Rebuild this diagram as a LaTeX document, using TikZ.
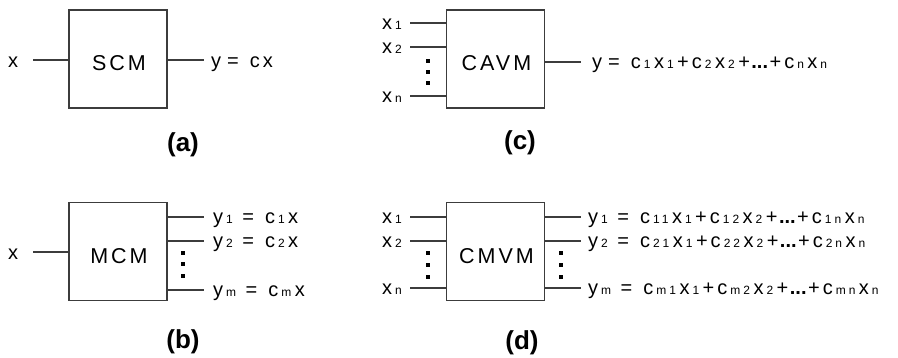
\documentclass[tikz,border=0pt]{standalone}
\usepackage{fontspec}
\setmainfont{Liberation Sans}
\newfontfamily\eqf[LetterSpace=15]{Liberation Sans}
\newfontfamily\subf[LetterSpace=25]{Liberation Sans}
\newfontfamily\plf{Liberation Sans}
\newfontfamily\bxf[LetterSpace=14]{Liberation Sans}
\newcommand\sbs[1]{\kern3pt{\subf\fontsize{12}{12}\selectfont #1}\kern3.5pt}
\newcommand\eqs{\kern6pt=\kern11pt}
\newcommand\dts{\kern1.5pt{\plf\bfseries ...}\kern1.5pt}
\definecolor{lc}{RGB}{60,60,60}
\tikzset{
  wire/.style={draw=lc, line width=1.1pt},
  blk/.style={draw=lc, line width=1.1pt, minimum width=98pt, minimum height=98pt, inner sep=0pt},
  blklbl/.style={anchor=base, inner sep=0pt, font=\bxf\fontsize{21.5}{21.5}\selectfont},
  eq/.style={anchor=base west, inner sep=0pt, font=\eqf\fontsize{20}{20}\selectfont},
  capt/.style={inner sep=0pt, font=\bfseries\fontsize{26}{26}\selectfont},
  vdot/.style={fill=black, minimum size=4.5pt, inner sep=0pt}
}
\begin{document}
\begin{tikzpicture}[x=1pt,y=-1pt]
\useasboundingbox (0,0) rectangle (898,357);
% (a)
\node[blk] (scm) at (118,59) {};
\node[blklbl] (scmt) at (119,70) {SCM};
\node[eq] (ax) at (8,67) {x};
\coordinate (ain) at (33,60);
\draw[wire] (ain) -- (ain -| scm.west);
\coordinate (aout) at (204,60);
\draw[wire] (aout -| scm.east) -- (aout);
\node[eq] (ay) at (211,67) {y\eqs cx};
\node[capt] (capa) at (183,145) {(a)};
% (b)
\node[blk] (mcm) at (118,251.5) {};
\node[blklbl] (mcmt) at (119,263) {MCM};
\node[eq] (bx) at (8,259) {x};
\coordinate (bin) at (33,252);
\draw[wire] (bin) -- (bin -| mcm.west);
\coordinate (bo1) at (204,217);
\coordinate (bo2) at (204,241);
\coordinate (bo3) at (204,290);
\draw[wire] (bo1 -| mcm.east) -- (bo1);
\draw[wire] (bo2 -| mcm.east) -- (bo2);
\draw[wire] (bo3 -| mcm.east) -- (bo3);
\node[eq] (by1) at (213,223) {y\sbs{1}\eqs c\sbs{1}x};
\node[eq] (by2) at (213,247) {y\sbs{2}\eqs c\sbs{2}x};
\node[eq] (by3) at (213,296) {y\sbs{m}\eqs c\sbs{m}x};
\node[vdot] (bd1) at (183,253) {};
\node[vdot] (bd2) at (183,264) {};
\node[vdot] (bd3) at (183,276) {};
\node[capt] (capb) at (183,342) {(b)};
% (c)
\node[blk] (cavm) at (495.5,59) {};
\node[blklbl] (cavmt) at (496.5,70) {CAVM};
\coordinate (ci1) at (410,23);
\coordinate (ci2) at (410,47);
\coordinate (ci3) at (410,96);
\draw[wire] (ci1) -- (ci1 -| cavm.west);
\draw[wire] (ci2) -- (ci2 -| cavm.west);
\draw[wire] (ci3) -- (ci3 -| cavm.west);
\node[eq] (cx1) at (382,29) {x\sbs{1}};
\node[eq] (cx2) at (382,53) {x\sbs{2}};
\node[eq] (cx3) at (382,102) {x\sbs{n}};
\node[vdot] (cd1) at (428,61) {};
\node[vdot] (cd2) at (428,72) {};
\node[vdot] (cd3) at (428,83) {};
\coordinate (cout) at (581,62);
\draw[wire] (cout -| cavm.east) -- (cout);
\node[eq] (cy) at (592,68) {y\eqs c\sbs{1}x\sbs{1}+c\sbs{2}x\sbs{2}+\dts+c\sbs{n}x\sbs{n}};
\node[capt] (capc) at (520,143) {(c)};
% (d)
\node[blk] (cmvm) at (495.5,251.5) {};
\node[blklbl] (cmvmt) at (496.5,263) {CMVM};
\coordinate (di1) at (410,217);
\coordinate (di2) at (410,241);
\coordinate (di3) at (410,288);
\draw[wire] (di1) -- (di1 -| cmvm.west);
\draw[wire] (di2) -- (di2 -| cmvm.west);
\draw[wire] (di3) -- (di3 -| cmvm.west);
\node[eq] (dx1) at (382,223) {x\sbs{1}};
\node[eq] (dx2) at (382,247) {x\sbs{2}};
\node[eq] (dx3) at (382,294) {x\sbs{n}};
\coordinate (do1) at (581,217);
\coordinate (do2) at (581,241);
\coordinate (do3) at (581,288);
\draw[wire] (do1 -| cmvm.east) -- (do1);
\draw[wire] (do2 -| cmvm.east) -- (do2);
\draw[wire] (do3 -| cmvm.east) -- (do3);
\node[vdot] (dl1) at (428,253) {};
\node[vdot] (dl2) at (428,265) {};
\node[vdot] (dl3) at (428,277) {};
\node[vdot] (dr1) at (561,253) {};
\node[vdot] (dr2) at (561,265) {};
\node[vdot] (dr3) at (561,277) {};
\node[eq] (dy1) at (588,223) {y\sbs{1}\eqs c\sbs{11}x\sbs{1}+c\sbs{12}x\sbs{2}+\dts+c\sbs{1n}x\sbs{n}};
\node[eq] (dy2) at (588,247) {y\sbs{2}\eqs c\sbs{21}x\sbs{1}+c\sbs{22}x\sbs{2}+\dts+c\sbs{2n}x\sbs{n}};
\node[eq] (dy3) at (588,294) {y\sbs{m}\eqs c\sbs{m1}x\sbs{1}+c\sbs{m2}x\sbs{2}+\dts+c\sbs{mn}x\sbs{n}};
\node[capt] (capd) at (522,343) {(d)};
\end{tikzpicture}
\end{document}
